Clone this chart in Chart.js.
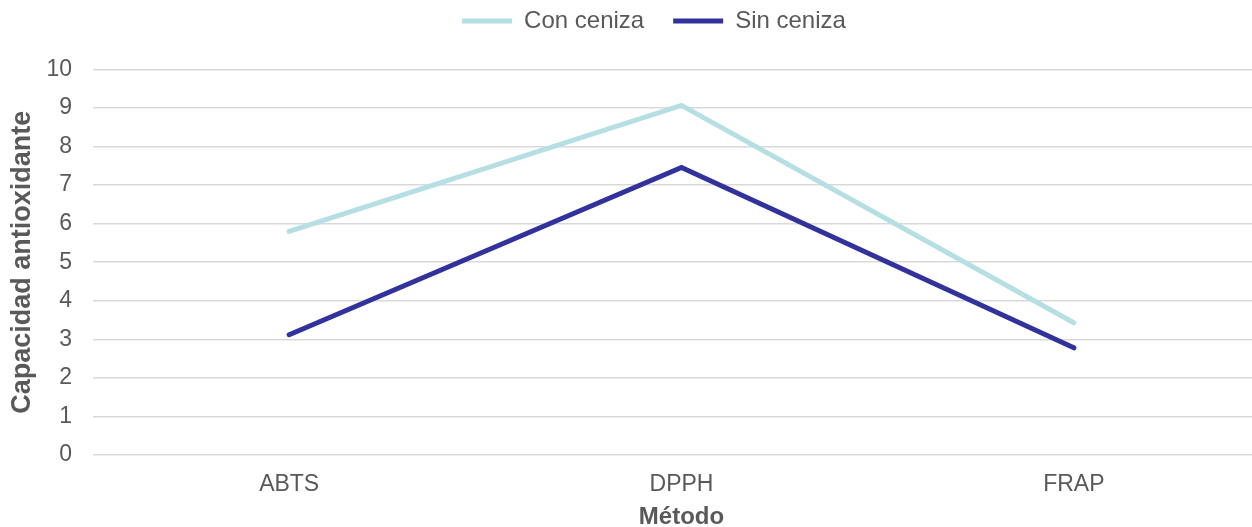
<!DOCTYPE html>
<html>
<head>
<meta charset="utf-8">
<script src="https://cdn.jsdelivr.net/npm/chart.js@4/dist/chart.umd.min.js"></script>
<style>
  html, body { margin: 0; padding: 0; background: #ffffff; overflow: hidden; }
  #wrap { width: 1270px; height: 527px; }
</style>
</head>
<body>
<div id="wrap"><canvas id="chart" width="1270" height="527"></canvas></div>
<script>
// Métodos y valores de capacidad antioxidante
const metodos = ["ABTS", "DPPH", "FRAP"];
const conCeniza = [5.8, 9.07, 3.43];
const sinCeniza = [3.12, 7.46, 2.78];
const yTicks = [0, 1, 2, 3, 4, 5, 6, 7, 8, 9, 10];

const textColor = "#595959";
const fontFamily = "'Liberation Sans', Arial, sans-serif";

// move the legend a bit right and up from where Chart.js puts it
const legendShift = {
    id: "legendShift",
    afterLayout(chart) {
        const lg = chart.legend;
        if (lg) {
            lg.left += 19;
            lg.right += 19;
            lg.top -= 26.5;
            lg.bottom -= 26.5;
        }
    }
};

const ctx = document.getElementById("chart");
let myChart = new Chart(ctx, {
    type: "line",
    plugins: [legendShift],
    data: {
        labels: metodos,
        datasets: [
            {
                label: "Con ceniza",
                data: conCeniza,
                borderColor: "#b5dfe2",
                backgroundColor: "#b5dfe2",
                borderWidth: 5,
                borderCapStyle: "round",
                pointRadius: 0,
                tension: 0,
            },
            {
                label: "Sin ceniza",
                data: sinCeniza,
                borderColor: "#32329c",
                backgroundColor: "#32329c",
                borderWidth: 5,
                borderCapStyle: "round",
                pointRadius: 0,
                tension: 0,
            },
        ],
    },
    options: {
        responsive: false,
        animation: false,
        layout: { padding: { top: 6.5, left: 0, right: 0, bottom: 0 } },
        plugins: {
            tooltip: { enabled: false },
            legend: {
                display: true,
                position: "top",
                labels: {
                    usePointStyle: true,
                    pointStyle: "line",
                    pointStyleWidth: 50,
                    boxHeight: 5,
                    padding: 29,
                    color: textColor,
                    font: { family: fontFamily, size: 24 },
                },
            },
        },
        scales: {
            x: {
                offset: true,
                afterFit: (axis) => { axis.height = 72; },
                grid: { display: false, drawTicks: false },
                border: { display: false },
                ticks: {
                    color: textColor,
                    padding: 16,
                    font: { family: fontFamily, size: 23 },
                },
                title: {
                    display: true,
                    text: "Método",
                    color: textColor,
                    padding: { top: 0, bottom: -2 },
                    font: { family: fontFamily, size: 24, weight: "bold", lineHeight: 1 },
                },
            },
            y: {
                min: yTicks[0],
                max: yTicks[yTicks.length - 1],
                afterBuildTicks: (axis) => {
                    axis.ticks = yTicks.map((v) => ({ value: v }));
                },
                afterFit: (axis) => { axis.width = 93; },
                grid: { color: "#d9d9d9", lineWidth: 1.6, drawTicks: false },
                border: { display: false },
                ticks: {
                    color: textColor,
                    padding: 21,
                    font: { family: fontFamily, size: 23 },
                },
                title: {
                    display: true,
                    text: "Capacidad antioxidante",
                    color: textColor,
                    padding: { top: 9.5, bottom: 0 },
                    font: { family: fontFamily, size: 27, weight: "bold", lineHeight: 1 },
                },
            },
        },
    },
});
</script>
</body>
</html>
